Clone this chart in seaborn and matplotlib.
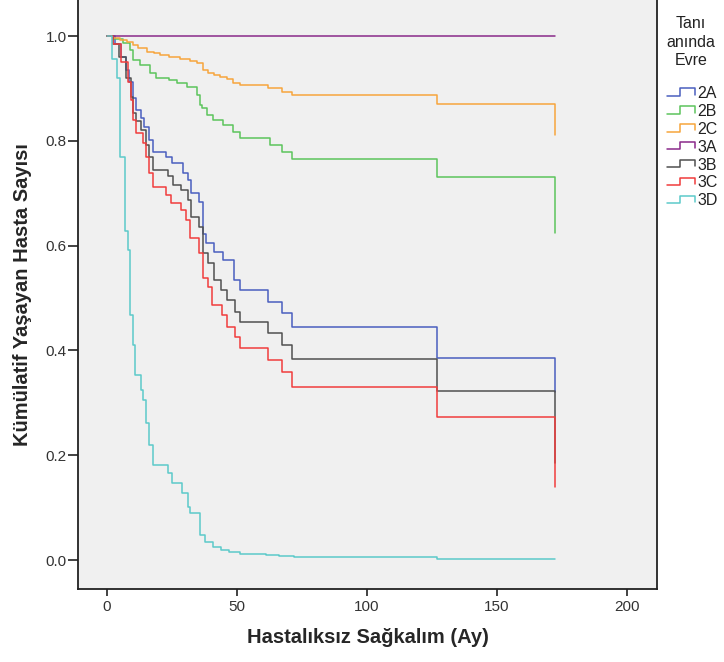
import numpy as np
import pandas as pd
import matplotlib
matplotlib.use("Agg")
import matplotlib.pyplot as plt
import seaborn as sns
from matplotlib.legend_handler import HandlerBase
from matplotlib.lines import Line2D

# ---- data (Kaplan-Meier step points: event time in months, survival after event) ----
groups = ["2A", "2B", "2C", "3A", "3B", "3C", "3D"]

t_2A = [0, 3, 5.5, 7.3, 8.6, 10, 11, 13, 14.3, 16.2, 17.5, 22.7, 24.9, 29.2, 31.2, 32.3,
        35.4, 37, 38, 41, 44.6, 48.8, 51.2, 62, 67.3, 71.2, 127, 172.3]
s_2A = [1.0, 0.985, 0.96, 0.935, 0.913, 0.882, 0.859, 0.844, 0.827, 0.802, 0.779, 0.770,
        0.757, 0.738, 0.725, 0.700, 0.684, 0.623, 0.605, 0.588, 0.572, 0.534, 0.515, 0.492,
        0.471, 0.445, 0.385, 0.32]

t_2B = [0, 2.5, 6.2, 8.8, 10, 12.7, 16.5, 19, 24, 26.8, 30.6, 34.5, 35.8, 36.4, 38.3, 40.9,
        44.7, 48.6, 51.2, 62.7, 67.3, 71.2, 127, 172.3]
s_2B = [1.0, 0.995, 0.987, 0.973, 0.954, 0.945, 0.929, 0.919, 0.916, 0.910, 0.903, 0.887,
        0.869, 0.862, 0.849, 0.840, 0.830, 0.817, 0.805, 0.792, 0.779, 0.765, 0.730, 0.624]

t_2C = [0, 2.3, 5, 7.6, 10, 12, 15.3, 18, 20.4, 24, 28, 32, 34.5, 37, 39, 41, 43.5, 46,
        48.5, 51.2, 62, 67.3, 71.2, 127, 172.3]
s_2C = [1.0, 0.997, 0.993, 0.988, 0.983, 0.977, 0.970, 0.967, 0.964, 0.960, 0.957, 0.953,
        0.948, 0.935, 0.930, 0.926, 0.921, 0.917, 0.911, 0.906, 0.900, 0.894, 0.887, 0.870,
        0.811]

t_3A = [0, 172.3]
s_3A = [1.0, 1.0]

t_3B = [0, 2.5, 4.6, 7.3, 9.2, 10, 11, 13, 15, 16.2, 17.7, 23.5, 25.4, 28.5, 31, 32.3, 35.5,
        37, 38.8, 41.2, 44, 46.2, 49.2, 51.2, 61.9, 67.3, 71.2, 127, 172.3]
s_3B = [1.0, 0.985, 0.96, 0.92, 0.884, 0.853, 0.837, 0.821, 0.792, 0.770, 0.744, 0.732,
        0.716, 0.706, 0.687, 0.655, 0.636, 0.586, 0.567, 0.534, 0.515, 0.496, 0.473, 0.454,
        0.433, 0.410, 0.384, 0.323, 0.185]

t_3C = [0, 2.3, 5.3, 8, 9.2, 10, 11, 14, 15, 16.3, 17.7, 22.7, 24.6, 28.5, 30.4, 31.9, 35.4,
        37, 38.8, 40.5, 44.2, 46.2, 49.2, 51.2, 61.9, 67.3, 71.2, 127, 172.3]
s_3C = [1.0, 0.985, 0.951, 0.913, 0.878, 0.840, 0.815, 0.796, 0.770, 0.738, 0.712, 0.697,
        0.681, 0.668, 0.649, 0.615, 0.586, 0.538, 0.521, 0.487, 0.468, 0.445, 0.426, 0.405,
        0.382, 0.359, 0.331, 0.273, 0.14]

t_3D = [0, 2.0, 4.0, 5.0, 6.9, 8.2, 8.8, 10, 10.8, 13, 14, 15, 16.2, 17.7, 23.5, 24.9, 28.9,
        31.2, 32, 35.8, 37.7, 40.8, 44, 47, 51, 61, 66, 72, 127, 172.3]
s_3D = [1.0, 0.957, 0.919, 0.770, 0.627, 0.592, 0.468, 0.410, 0.353, 0.324, 0.305, 0.261,
        0.219, 0.181, 0.166, 0.147, 0.128, 0.101, 0.090, 0.048, 0.034, 0.025, 0.020, 0.015,
        0.011, 0.009, 0.007, 0.005, 0.001, 0.001]

x_ticks = [0, 50, 100, 150, 200]
y_ticks = [0.0, 0.2, 0.4, 0.6, 0.8, 1.0]

colors = {"2A": "#4a5fbf", "2B": "#5cc45c", "2C": "#f7a53c", "3A": "#8a2a8a",
          "3B": "#505050", "3C": "#f03c3c", "3D": "#5ccaca"}

series = {"2A": (t_2A, s_2A), "2B": (t_2B, s_2B), "2C": (t_2C, s_2C), "3A": (t_3A, s_3A),
          "3B": (t_3B, s_3B), "3C": (t_3C, s_3C), "3D": (t_3D, s_3D)}

rows = []
for g in groups:
    tt, ss = series[g]
    for a, b in zip(tt, ss):
        rows.append((g, a, b))
df = pd.DataFrame(rows, columns=["Evre", "Zaman", "Sag"])

# ---- style ----
sns.set_theme(style="ticks")
plt.rcParams["font.family"] = ["Liberation Sans", "DejaVu Sans"]

fig = plt.figure(figsize=(7.24, 6.62), dpi=100)
ax = fig.add_axes([78 / 724, 73 / 662, 579 / 724, 589 / 662])
ax.set_facecolor("#f0f0f0")

sns.lineplot(data=df, x="Zaman", y="Sag", hue="Evre", hue_order=groups, palette=colors,
             estimator=None, sort=False, drawstyle="steps-post", linewidth=1.1,
             legend=False, ax=ax)

ax.set_xlim(-11.15, 211.5)
ax.set_ylim(-0.0553, 1.0687)
ax.set_xticks(x_ticks)
ax.set_xticklabels([str(v) for v in x_ticks])
ax.set_yticks(y_ticks)
ax.set_yticklabels([f"{v:.1f}" for v in y_ticks])

for side in ["left", "bottom", "right"]:
    ax.spines[side].set_color("#222222")
    ax.spines[side].set_linewidth(1.3)
ax.spines["top"].set_visible(False)

ax.tick_params(axis="x", direction="out", length=5, width=1.2, color="#222222",
               labelsize=11, labelcolor="#333333", pad=3)
ax.tick_params(axis="y", direction="out", length=7, width=1.2, color="#222222",
               labelsize=11, labelcolor="#333333", pad=1)

ax.set_xlabel("Hastalıksız Sağkalım (Ay)", fontsize=14.5, fontweight="bold", labelpad=10)
ax.set_ylabel("Kümülatif Yaşayan Hasta Sayısı", fontsize=14.5, fontweight="bold",
              labelpad=10)


class StepHandler(HandlerBase):
    def create_artists(self, legend, orig_handle, xdescent, ydescent, width, height,
                       fontsize, trans):
        x0 = -xdescent
        y0 = -ydescent
        xs = [x0, x0 + 0.45 * width, x0 + 0.45 * width, x0 + width, x0 + width]
        ys = [y0 + 0.2 * height, y0 + 0.2 * height, y0 + 0.85 * height,
              y0 + 0.85 * height, y0 + 0.3 * height]
        ln = Line2D(xs, ys, color=orig_handle.get_color(), linewidth=1.1)
        ln.set_transform(trans)
        return [ln]


fig.text(691 / 724, 1 - 16 / 662, "Tanı\nanında\nEvre", ha="center", va="top",
         fontsize=11.5, color="#222222", linespacing=1.3, multialignment="center")

handles = [Line2D([], [], color=colors[g]) for g in groups]
leg = fig.legend(handles, groups, loc="upper left", bbox_to_anchor=(667 / 724, 1 - 86 / 662),
                 frameon=False, fontsize=11.5, handler_map={Line2D: StepHandler()},
                 handlelength=1.75, handletextpad=0.15, labelspacing=0.18,
                 borderaxespad=0, borderpad=0)
for txt in leg.get_texts():
    txt.set_color("#222222")

fig.savefig("out.png", dpi=100)
